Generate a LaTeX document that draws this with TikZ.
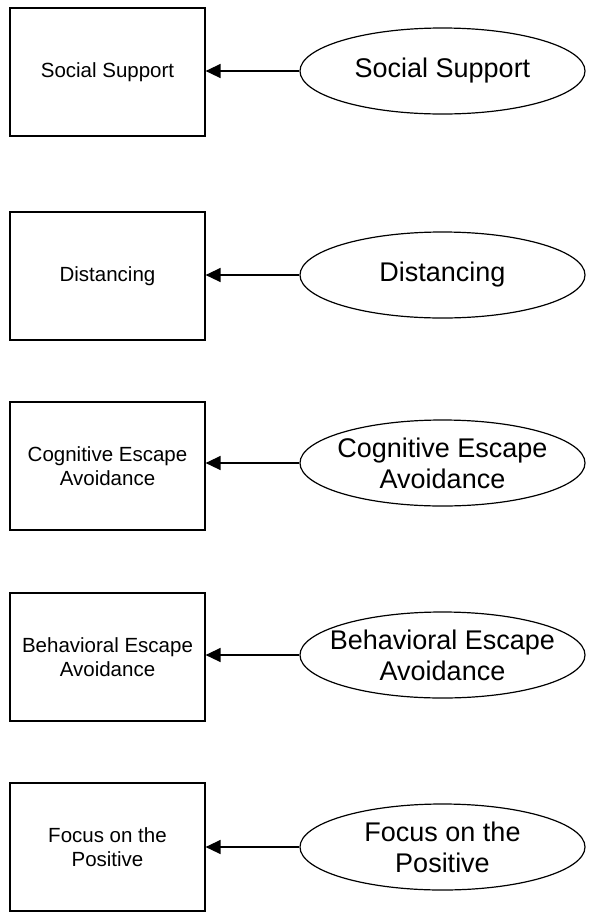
\documentclass[tikz,border=0pt]{standalone}
\usepackage{fontspec}
\setmainfont{Liberation Sans}
\usetikzlibrary{arrows.meta,shapes.geometric}

\begin{document}
\begin{tikzpicture}[x=1pt,y=-1pt,
  every node/.style={align=center},
  itembox/.style={draw,line width=1.2pt,minimum width=195pt,minimum height=128pt,inner sep=0pt,font=\fontsize{20.5}{24}\selectfont},
  factor/.style={draw,ellipse,line width=1.2pt,minimum width=285pt,minimum height=86pt,inner xsep=-60pt,inner ysep=-20pt,font=\fontsize{27}{31}\selectfont},
  load/.style={line width=1.4pt,-{Triangle[length=15pt,width=14pt]}}]
\useasboundingbox (0,0) rectangle (591,914);
\node[itembox] (b1) at (107.5,72) {Social Support};
\node[itembox] (b2) at (107.5,276) {Distancing};
\node[itembox] (b3) at (107.5,466) {Cognitive Escape\\Avoidance};
\node[itembox] (b4) at (107.5,657) {Behavioral Escape\\Avoidance};
\node[itembox] (b5) at (107.5,847) {Focus on the\\Positive};
\node[factor] (e1) at (442.5,71) {Social Support};
\node[factor] (e2) at (442.5,275) {Distancing};
\node[factor] (e3) at (442.5,463) {Cognitive Escape\\Avoidance};
\node[factor] (e4) at (442.5,655) {Behavioral Escape\\Avoidance};
\node[factor] (e5) at (442.5,847) {Focus on the\\Positive};
\draw[load] (e1.west) -- (e1.west -| b1.east);
\draw[load] (e2.west) -- (e2.west -| b2.east);
\draw[load] (e3.west) -- (e3.west -| b3.east);
\draw[load] (e4.west) -- (e4.west -| b4.east);
\draw[load] (e5.west) -- (e5.west -| b5.east);
\end{tikzpicture}
\end{document}
